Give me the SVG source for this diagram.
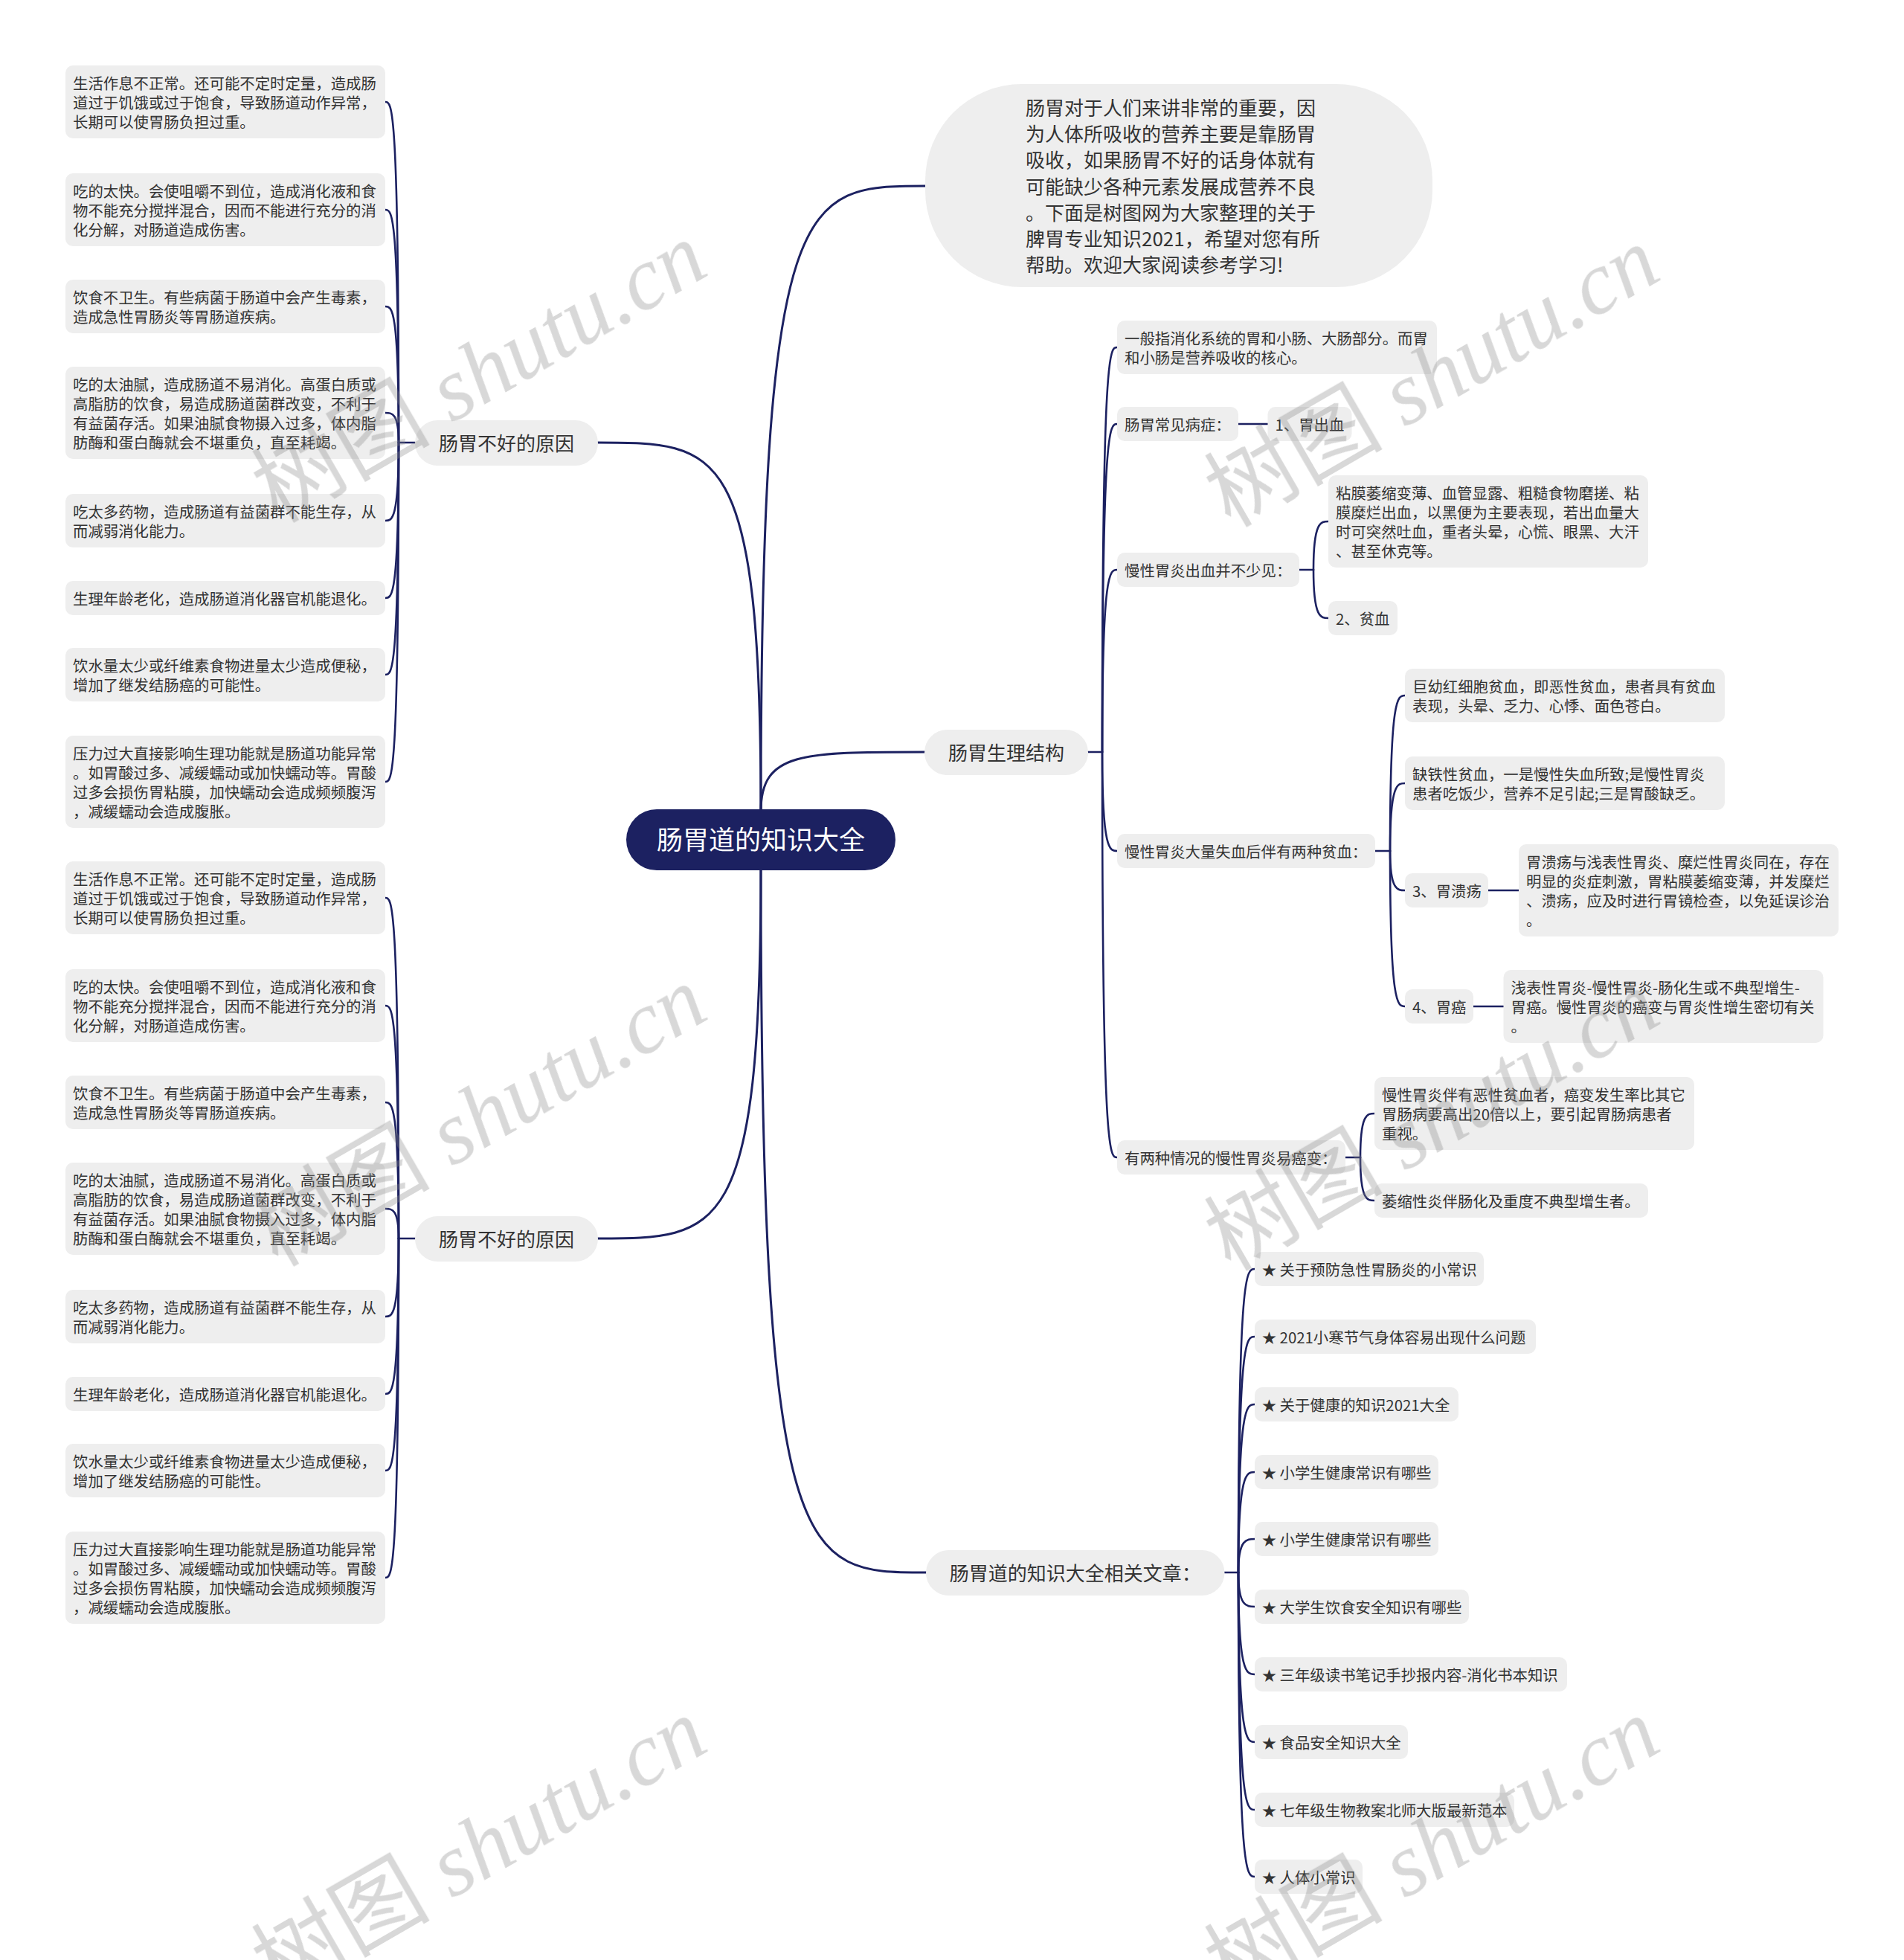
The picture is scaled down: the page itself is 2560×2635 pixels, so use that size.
<svg xmlns="http://www.w3.org/2000/svg" width="2560" height="2635" viewBox="0 0 2560 2635">
<style>
.bg{fill:#ffffff}
.box{fill:#eeeeee}
.t{font-family:"Noto Sans CJK SC","Noto Sans",sans-serif;font-size:20.4px;fill:#333333}
.b{font-family:"Noto Sans CJK SC","Noto Sans",sans-serif;font-size:26px;fill:#333333}
.root{fill:#1c2161}
.rt{font-family:"Noto Sans CJK SC","Noto Sans",sans-serif;font-size:35px;fill:#ffffff}
.c{fill:none;stroke:#1c2161;stroke-width:3;stroke-linecap:round}
.s{fill:none;stroke:#1c2161;stroke-width:2.6;stroke-linecap:round}
.star{font-family:"Noto Sans CJK SC",sans-serif;font-size:19px}
.wm{font-size:120px;fill:#8a8a8a;opacity:0.33}
.wmc{font-family:"Noto Sans CJK SC",sans-serif}
.wml{font-family:"Liberation Serif",serif;font-style:italic}
</style>
<rect class="bg" x="0" y="0" width="2560" height="2635"/>

<g id="connectors">
  <path class="c" d="M1023 1091 C1023 250 1078 250 1244 250"/>
  <path class="c" d="M1023 1091 C1023 1011 1078 1011 1243 1011"/>
  <path class="c" d="M1023 1091 C1023 595 968 595 804 595"/>
  <path class="c" d="M1023 1168 C1023 1665 968 1665 804 1665"/>
  <path class="c" d="M1023 1168 C1023 2114 1078 2114 1245 2114"/>
  <path class="s" d="M558 595 L536 595"/>
  <path class="s" d="M536 595 C536 137 527 137 518 137"/>
  <path class="s" d="M536 595 C536 282 527 282 518 282"/>
  <path class="s" d="M536 595 C536 412 527 412 518 412"/>
  <path class="s" d="M536 595 C536 555 527 555 518 555"/>
  <path class="s" d="M536 595 C536 700 527 700 518 700"/>
  <path class="s" d="M536 595 C536 804 527 804 518 804"/>
  <path class="s" d="M536 595 C536 907 527 907 518 907"/>
  <path class="s" d="M536 595 C536 1051 527 1051 518 1051"/>
  <path class="s" d="M558 1665 L536 1665"/>
  <path class="s" d="M536 1665 C536 1207 527 1207 518 1207"/>
  <path class="s" d="M536 1665 C536 1352 527 1352 518 1352"/>
  <path class="s" d="M536 1665 C536 1482 527 1482 518 1482"/>
  <path class="s" d="M536 1665 C536 1625 527 1625 518 1625"/>
  <path class="s" d="M536 1665 C536 1770 527 1770 518 1770"/>
  <path class="s" d="M536 1665 C536 1874 527 1874 518 1874"/>
  <path class="s" d="M536 1665 C536 1977 527 1977 518 1977"/>
  <path class="s" d="M536 1665 C536 2121 527 2121 518 2121"/>
  <path class="s" d="M1463 1011 L1482 1011"/>
  <path class="s" d="M1482 1011 C1482 467 1492 467 1502 467"/>
  <path class="s" d="M1482 1011 C1482 570 1492 570 1502 570"/>
  <path class="s" d="M1482 1011 C1482 766 1492 766 1502 766"/>
  <path class="s" d="M1482 1011 C1482 1144 1492 1144 1502 1144"/>
  <path class="s" d="M1482 1011 C1482 1556 1492 1556 1502 1556"/>
  <path class="s" d="M1664.5 570 L1704.5 570"/>
  <path class="s" d="M1746.5 766 L1766 766"/>
  <path class="s" d="M1766 766 C1766 701 1776 701 1786 701"/>
  <path class="s" d="M1766 766 C1766 831 1776 831 1786 831"/>
  <path class="s" d="M1849 1144 L1869 1144"/>
  <path class="s" d="M1869 1144 C1869 935 1879 935 1889 935"/>
  <path class="s" d="M1869 1144 C1869 1053 1879 1053 1889 1053"/>
  <path class="s" d="M1869 1144 C1869 1197 1879 1197 1889 1197"/>
  <path class="s" d="M1869 1144 C1869 1353 1879 1353 1889 1353"/>
  <path class="s" d="M2001 1197 L2042 1197"/>
  <path class="s" d="M1981 1353 L2021.5 1353"/>
  <path class="s" d="M1808 1556 L1829 1556"/>
  <path class="s" d="M1829 1556 C1829 1497 1838.5 1497 1848 1497"/>
  <path class="s" d="M1829 1556 C1829 1614 1838.5 1614 1848 1614"/>
  <path class="s" d="M1646.5 2114 L1665 2114"/>
  <path class="s" d="M1665 2114 C1665 1706 1676 1706 1687 1706"/>
  <path class="s" d="M1665 2114 C1665 1797 1676 1797 1687 1797"/>
  <path class="s" d="M1665 2114 C1665 1888 1676 1888 1687 1888"/>
  <path class="s" d="M1665 2114 C1665 1979 1676 1979 1687 1979"/>
  <path class="s" d="M1665 2114 C1665 2069 1676 2069 1687 2069"/>
  <path class="s" d="M1665 2114 C1665 2160 1676 2160 1687 2160"/>
  <path class="s" d="M1665 2114 C1665 2251 1676 2251 1687 2251"/>
  <path class="s" d="M1665 2114 C1665 2342 1676 2342 1687 2342"/>
  <path class="s" d="M1665 2114 C1665 2433 1676 2433 1687 2433"/>
  <path class="s" d="M1665 2114 C1665 2523 1676 2523 1687 2523"/>
</g>

<g id="root">
  <rect class="root" x="842" y="1088" width="362" height="82" rx="41"/>
  <text class="rt" x="1023" y="1142" text-anchor="middle">肠胃道的知识大全</text>
</g>

<g id="intro" transform="translate(1244,113)">
  <rect class="box" width="682" height="273" rx="130"/>
  <text class="b" x="135" y="42">肠胃对于人们来讲非常的重要，因<tspan x="135" dy="35.2">为人体所吸收的营养主要是靠肠胃</tspan><tspan x="135" dy="35.2">吸收，如果肠胃不好的话身体就有</tspan><tspan x="135" dy="35.2">可能缺少各种元素发展成营养不良</tspan><tspan x="135" dy="35.2">。下面是树图网为大家整理的关于</tspan><tspan x="135" dy="35.2">脾胃专业知识2021，希望对您有所</tspan><tspan x="135" dy="35.2">帮助。欢迎大家阅读参考学习!</tspan></text>
</g>

<g id="cause1" transform="translate(558,565)">
  <rect class="box" width="246" height="61" rx="30.5"/>
  <text class="b" x="123" y="41" text-anchor="middle">肠胃不好的原因</text>
</g>
<g id="c1-1" transform="translate(88,88)">
  <rect class="box" width="430" height="98" rx="10"/>
  <text class="t" x="10" y="32">生活作息不正常。还可能不定时定量，造成肠<tspan x="10" dy="26">道过于饥饿或过于饱食，导致肠道动作异常，</tspan><tspan x="10" dy="26">长期可以使胃肠负担过重。</tspan></text>
</g>
<g id="c1-2" transform="translate(88,233)">
  <rect class="box" width="430" height="98" rx="10"/>
  <text class="t" x="10" y="32">吃的太快。会使咀嚼不到位，造成消化液和食<tspan x="10" dy="26">物不能充分搅拌混合，因而不能进行充分的消</tspan><tspan x="10" dy="26">化分解，对肠道造成伤害。</tspan></text>
</g>
<g id="c1-3" transform="translate(88,376)">
  <rect class="box" width="430" height="72" rx="10"/>
  <text class="t" x="10" y="32">饮食不卫生。有些病菌于肠道中会产生毒素，<tspan x="10" dy="26">造成急性胃肠炎等胃肠道疾病。</tspan></text>
</g>
<g id="c1-4" transform="translate(88,493)">
  <rect class="box" width="430" height="124" rx="10"/>
  <text class="t" x="10" y="32">吃的太油腻，造成肠道不易消化。高蛋白质或<tspan x="10" dy="26">高脂肪的饮食，易造成肠道菌群改变，不利于</tspan><tspan x="10" dy="26">有益菌存活。如果油腻食物摄入过多，体内脂</tspan><tspan x="10" dy="26">肪酶和蛋白酶就会不堪重负，直至耗竭。</tspan></text>
</g>
<g id="c1-5" transform="translate(88,664)">
  <rect class="box" width="430" height="72" rx="10"/>
  <text class="t" x="10" y="32">吃太多药物，造成肠道有益菌群不能生存，从<tspan x="10" dy="26">而减弱消化能力。</tspan></text>
</g>
<g id="c1-6" transform="translate(88,781)">
  <rect class="box" width="430" height="46" rx="10"/>
  <text class="t" x="10" y="32">生理年龄老化，造成肠道消化器官机能退化。</text>
</g>
<g id="c1-7" transform="translate(88,871)">
  <rect class="box" width="430" height="72" rx="10"/>
  <text class="t" x="10" y="32">饮水量太少或纤维素食物进量太少造成便秘，<tspan x="10" dy="26">增加了继发结肠癌的可能性。</tspan></text>
</g>
<g id="c1-8" transform="translate(88,989)">
  <rect class="box" width="430" height="124" rx="10"/>
  <text class="t" x="10" y="32">压力过大直接影响生理功能就是肠道功能异常<tspan x="10" dy="26">。如胃酸过多、减缓蠕动或加快蠕动等。胃酸</tspan><tspan x="10" dy="26">过多会损伤胃粘膜，加快蠕动会造成频频腹泻</tspan><tspan x="10" dy="26">，减缓蠕动会造成腹胀。</tspan></text>
</g>

<g id="cause2" transform="translate(558,1635)">
  <rect class="box" width="246" height="61" rx="30.5"/>
  <text class="b" x="123" y="41" text-anchor="middle">肠胃不好的原因</text>
</g>
<g id="c2-1" transform="translate(88,1158)">
  <rect class="box" width="430" height="98" rx="10"/>
  <text class="t" x="10" y="32">生活作息不正常。还可能不定时定量，造成肠<tspan x="10" dy="26">道过于饥饿或过于饱食，导致肠道动作异常，</tspan><tspan x="10" dy="26">长期可以使胃肠负担过重。</tspan></text>
</g>
<g id="c2-2" transform="translate(88,1303)">
  <rect class="box" width="430" height="98" rx="10"/>
  <text class="t" x="10" y="32">吃的太快。会使咀嚼不到位，造成消化液和食<tspan x="10" dy="26">物不能充分搅拌混合，因而不能进行充分的消</tspan><tspan x="10" dy="26">化分解，对肠道造成伤害。</tspan></text>
</g>
<g id="c2-3" transform="translate(88,1446)">
  <rect class="box" width="430" height="72" rx="10"/>
  <text class="t" x="10" y="32">饮食不卫生。有些病菌于肠道中会产生毒素，<tspan x="10" dy="26">造成急性胃肠炎等胃肠道疾病。</tspan></text>
</g>
<g id="c2-4" transform="translate(88,1563)">
  <rect class="box" width="430" height="124" rx="10"/>
  <text class="t" x="10" y="32">吃的太油腻，造成肠道不易消化。高蛋白质或<tspan x="10" dy="26">高脂肪的饮食，易造成肠道菌群改变，不利于</tspan><tspan x="10" dy="26">有益菌存活。如果油腻食物摄入过多，体内脂</tspan><tspan x="10" dy="26">肪酶和蛋白酶就会不堪重负，直至耗竭。</tspan></text>
</g>
<g id="c2-5" transform="translate(88,1734)">
  <rect class="box" width="430" height="72" rx="10"/>
  <text class="t" x="10" y="32">吃太多药物，造成肠道有益菌群不能生存，从<tspan x="10" dy="26">而减弱消化能力。</tspan></text>
</g>
<g id="c2-6" transform="translate(88,1851)">
  <rect class="box" width="430" height="46" rx="10"/>
  <text class="t" x="10" y="32">生理年龄老化，造成肠道消化器官机能退化。</text>
</g>
<g id="c2-7" transform="translate(88,1941)">
  <rect class="box" width="430" height="72" rx="10"/>
  <text class="t" x="10" y="32">饮水量太少或纤维素食物进量太少造成便秘，<tspan x="10" dy="26">增加了继发结肠癌的可能性。</tspan></text>
</g>
<g id="c2-8" transform="translate(88,2059)">
  <rect class="box" width="430" height="124" rx="10"/>
  <text class="t" x="10" y="32">压力过大直接影响生理功能就是肠道功能异常<tspan x="10" dy="26">。如胃酸过多、减缓蠕动或加快蠕动等。胃酸</tspan><tspan x="10" dy="26">过多会损伤胃粘膜，加快蠕动会造成频频腹泻</tspan><tspan x="10" dy="26">，减缓蠕动会造成腹胀。</tspan></text>
</g>

<g id="phys" transform="translate(1243,981)">
  <rect class="box" width="220" height="61" rx="30.5"/>
  <text class="b" x="110" y="41" text-anchor="middle">肠胃生理结构</text>
</g>
<g id="p-a" transform="translate(1502,431)">
  <rect class="box" width="430" height="72" rx="10"/>
  <text class="t" x="10" y="32">一般指消化系统的胃和小肠、大肠部分。而胃<tspan x="10" dy="26">和小肠是营养吸收的核心。</tspan></text>
</g>
<g id="p-b" transform="translate(1502,547)">
  <rect class="box" width="163" height="46" rx="10"/>
  <text class="t" x="10" y="32">肠胃常见病症：</text>
</g>
<g id="p-b1" transform="translate(1704.5,547)">
  <rect class="box" width="113" height="46" rx="10"/>
  <text class="t" x="10" y="32">1、胃出血</text>
</g>
<g id="p-c" transform="translate(1502,743)">
  <rect class="box" width="245" height="46" rx="10"/>
  <text class="t" x="10" y="32">慢性胃炎出血并不少见：</text>
</g>
<g id="p-c1" transform="translate(1786,639)">
  <rect class="box" width="430" height="124" rx="10"/>
  <text class="t" x="10" y="32">粘膜萎缩变薄、血管显露、粗糙食物磨搓、粘<tspan x="10" dy="26">膜糜烂出血，以黑便为主要表现，若出血量大</tspan><tspan x="10" dy="26">时可突然吐血，重者头晕，心慌、眼黑、大汗</tspan><tspan x="10" dy="26">、甚至休克等。</tspan></text>
</g>
<g id="p-c2" transform="translate(1786,808)">
  <rect class="box" width="93" height="46" rx="10"/>
  <text class="t" x="10" y="32">2、贫血</text>
</g>
<g id="p-d" transform="translate(1502,1121)">
  <rect class="box" width="347" height="46" rx="10"/>
  <text class="t" x="10" y="32">慢性胃炎大量失血后伴有两种贫血：</text>
</g>
<g id="p-d1" transform="translate(1889,899)">
  <rect class="box" width="430" height="72" rx="10"/>
  <text class="t" x="10" y="32">巨幼红细胞贫血，即恶性贫血，患者具有贫血<tspan x="10" dy="26">表现，头晕、乏力、心悸、面色苍白。</tspan></text>
</g>
<g id="p-d2" transform="translate(1889,1017)">
  <rect class="box" width="430" height="72" rx="10"/>
  <text class="t" x="10" y="32">缺铁性贫血，一是慢性失血所致;是慢性胃炎<tspan x="10" dy="26">患者吃饭少，营养不足引起;三是胃酸缺乏。</tspan></text>
</g>
<g id="p-d3" transform="translate(1889,1174)">
  <rect class="box" width="112" height="46" rx="10"/>
  <text class="t" x="10" y="32">3、胃溃疡</text>
</g>
<g id="p-d3a" transform="translate(2042,1135)">
  <rect class="box" width="430" height="124" rx="10"/>
  <text class="t" x="10" y="32">胃溃疡与浅表性胃炎、糜烂性胃炎同在，存在<tspan x="10" dy="26">明显的炎症刺激，胃粘膜萎缩变薄，并发糜烂</tspan><tspan x="10" dy="26">、溃疡，应及时进行胃镜检查，以免延误诊治</tspan><tspan x="10" dy="26">。</tspan></text>
</g>
<g id="p-d4" transform="translate(1889,1330)">
  <rect class="box" width="92" height="46" rx="10"/>
  <text class="t" x="10" y="32">4、胃癌</text>
</g>
<g id="p-d4a" transform="translate(2021.5,1304)">
  <rect class="box" width="430" height="98" rx="10"/>
  <text class="t" x="10" y="32">浅表性胃炎-慢性胃炎-肠化生或不典型增生-<tspan x="10" dy="26">胃癌。慢性胃炎的癌变与胃炎性增生密切有关</tspan><tspan x="10" dy="26">。</tspan></text>
</g>
<g id="p-e" transform="translate(1502,1533)">
  <rect class="box" width="307" height="46" rx="10"/>
  <text class="t" x="10" y="32">有两种情况的慢性胃炎易癌变：</text>
</g>
<g id="p-e1" transform="translate(1848,1448)">
  <rect class="box" width="430" height="98" rx="10"/>
  <text class="t" x="10" y="32">慢性胃炎伴有恶性贫血者，癌变发生率比其它<tspan x="10" dy="26">胃肠病要高出20倍以上，要引起胃肠病患者</tspan><tspan x="10" dy="26">重视。</tspan></text>
</g>
<g id="p-e2" transform="translate(1848,1591)">
  <rect class="box" width="368" height="46" rx="10"/>
  <text class="t" x="10" y="32">萎缩性炎伴肠化及重度不典型增生者。</text>
</g>

<g id="rel" transform="translate(1245,2084)">
  <rect class="box" width="401.5" height="61" rx="30.5"/>
  <text class="b" x="200.75" y="41" text-anchor="middle">肠胃道的知识大全相关文章：</text>
</g>
<g id="r1" transform="translate(1687,1683)"><rect class="box" width="308" height="46" rx="10"/><text class="t" x="10" y="32"><tspan class="star">★</tspan> 关于预防急性胃肠炎的小常识</text></g>
<g id="r2" transform="translate(1687,1774)"><rect class="box" width="378" height="46" rx="10"/><text class="t" x="10" y="32"><tspan class="star">★</tspan> 2021小寒节气身体容易出现什么问题</text></g>
<g id="r3" transform="translate(1687,1865)"><rect class="box" width="274" height="46" rx="10"/><text class="t" x="10" y="32"><tspan class="star">★</tspan> 关于健康的知识2021大全</text></g>
<g id="r4" transform="translate(1687,1956)"><rect class="box" width="247" height="46" rx="10"/><text class="t" x="10" y="32"><tspan class="star">★</tspan> 小学生健康常识有哪些</text></g>
<g id="r5" transform="translate(1687,2046)"><rect class="box" width="247" height="46" rx="10"/><text class="t" x="10" y="32"><tspan class="star">★</tspan> 小学生健康常识有哪些</text></g>
<g id="r6" transform="translate(1687,2137)"><rect class="box" width="288" height="46" rx="10"/><text class="t" x="10" y="32"><tspan class="star">★</tspan> 大学生饮食安全知识有哪些</text></g>
<g id="r7" transform="translate(1687,2228)"><rect class="box" width="420" height="46" rx="10"/><text class="t" x="10" y="32"><tspan class="star">★</tspan> 三年级读书笔记手抄报内容-消化书本知识</text></g>
<g id="r8" transform="translate(1687,2319)"><rect class="box" width="206" height="46" rx="10"/><text class="t" x="10" y="32"><tspan class="star">★</tspan> 食品安全知识大全</text></g>
<g id="r9" transform="translate(1687,2410)"><rect class="box" width="349" height="46" rx="10"/><text class="t" x="10" y="32"><tspan class="star">★</tspan> 七年级生物教案北师大版最新范本</text></g>
<g id="r10" transform="translate(1687,2500)"><rect class="box" width="145" height="46" rx="10"/><text class="t" x="10" y="32"><tspan class="star">★</tspan> 人体小常识</text></g>

<g id="watermarks" class="wm">
  <text transform="translate(665,536) rotate(-30)" text-anchor="middle"><tspan class="wmc">树图</tspan><tspan class="wml"> shutu.cn</tspan></text>
  <text transform="translate(665,1536) rotate(-30)" text-anchor="middle"><tspan class="wmc">树图</tspan><tspan class="wml"> shutu.cn</tspan></text>
  <text transform="translate(665,2520) rotate(-30)" text-anchor="middle"><tspan class="wmc">树图</tspan><tspan class="wml"> shutu.cn</tspan></text>
  <text transform="translate(1946,542) rotate(-30)" text-anchor="middle"><tspan class="wmc">树图</tspan><tspan class="wml"> shutu.cn</tspan></text>
  <text transform="translate(1946,1542) rotate(-30)" text-anchor="middle"><tspan class="wmc">树图</tspan><tspan class="wml"> shutu.cn</tspan></text>
  <text transform="translate(1946,2520) rotate(-30)" text-anchor="middle"><tspan class="wmc">树图</tspan><tspan class="wml"> shutu.cn</tspan></text>
</g>
</svg>
